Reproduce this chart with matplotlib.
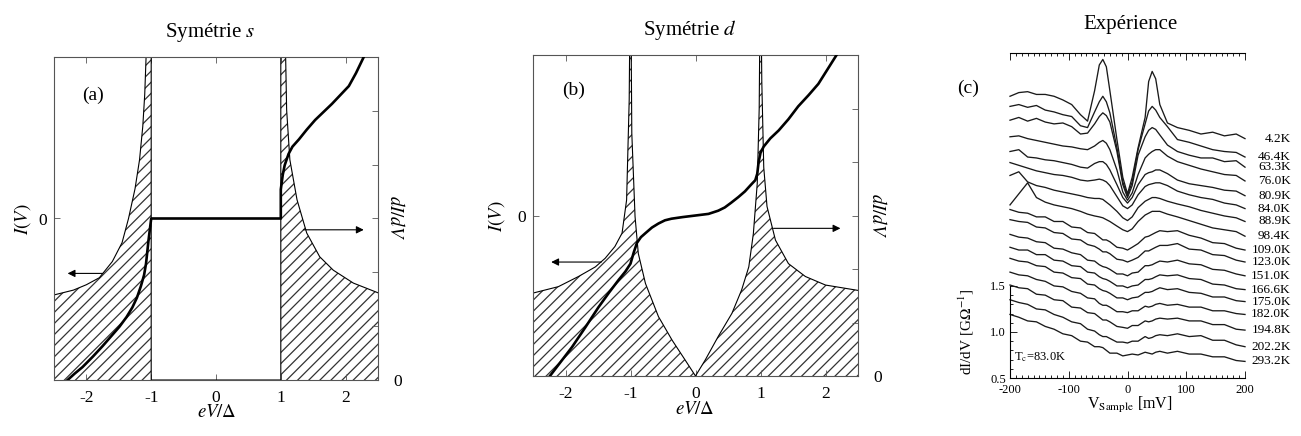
import numpy as np
import matplotlib.pyplot as plt
from matplotlib.ticker import FixedLocator, MultipleLocator

plt.rcParams['font.family'] = ['Liberation Serif', 'DejaVu Serif']
plt.rcParams['mathtext.fontset'] = 'stix'
plt.rcParams['hatch.linewidth'] = 0.9

W, H = 1301, 436

# ---------------------------------------------------------------------------
# (a) s symmetry : density of states (right axis) and I(V) (left axis), x = eV/Delta
dos_s_x = [-2.5, -2.2, -2.0, -1.8, -1.6, -1.45, -1.35, -1.25, -1.18, -1.13, -1.10, -1.07, -1.0, -1.0,
           1.0, 1.0, 1.07, 1.09, 1.14, 1.25, 1.40, 1.60, 1.81, 2.12, 2.5]
dos_s_y = [1.58, 1.67, 1.77, 1.90, 2.20, 2.55, 3.0, 3.55, 4.09, 4.71, 5.3, 6.3, 8.0, 0.0,
           0.0, 8.0, 6.3, 5.02, 4.09, 3.35, 2.73, 2.29, 2.04, 1.80, 1.62]
iv_s_x = [-2.29, -2.18, -2.06, -1.90, -1.75, -1.62, -1.49, -1.38, -1.29, -1.22, -1.16, -1.11, -1.08,
          -1.04, -1.0, 1.0, 1.0, 1.03, 1.06, 1.12, 1.18, 1.28, 1.40, 1.53, 1.66, 1.79, 1.92, 2.05,
          2.16, 2.28]
iv_s_i = [-1.0, -0.96, -0.92, -0.855, -0.79, -0.73, -0.67, -0.61, -0.55, -0.49, -0.42, -0.35, -0.28,
          -0.13, 0.0, 0.0, 0.18, 0.27, 0.33, 0.40, 0.445, 0.49, 0.55, 0.61, 0.66, 0.71, 0.765, 0.82,
          0.90, 1.0]

# (b) d symmetry
dos_d_x = [-2.5, -2.11, -1.80, -1.54, -1.39, -1.24, -1.13, -1.06, -1.02, -1.0, -0.98, -0.93, -0.88,
           -0.77, -0.57, -0.36, -0.16, 0.0, 0.15, 0.35, 0.56, 0.71, 0.82, 0.89, 0.95, 0.98, 1.0,
           1.02, 1.05, 1.10, 1.23, 1.43, 1.69, 2.0, 2.5]
dos_d_y = [1.55, 1.67, 1.86, 2.04, 2.20, 2.42, 2.67, 3.29, 5.16, 8.0, 4.54, 2.98, 2.29,
           1.73, 1.11, 0.67, 0.30, 0.0, 0.30, 0.74, 1.17, 1.61, 2.04, 2.66, 3.6, 5.0, 8.0,
           5.5, 3.9, 3.17, 2.54, 2.10, 1.86, 1.70, 1.60]
iv_d_x = [-2.24, -2.07, -1.90, -1.70, -1.49, -1.33, -1.18, -1.08, -1.00, -0.95, -0.90, -0.84, -0.77,
          -0.67, -0.57, -0.47, -0.37, -0.2, 0.0, 0.2, 0.35, 0.45, 0.55, 0.66, 0.76, 0.85, 0.92,
          0.95, 0.97, 1.00, 1.05, 1.15, 1.28, 1.43, 1.58, 1.74, 1.89, 2.03, 2.17]
iv_d_i = [-1.0, -0.91, -0.82, -0.70, -0.57, -0.48, -0.40, -0.35, -0.30, -0.23, -0.17, -0.135, -0.11,
          -0.075, -0.05, -0.03, -0.02, -0.01, 0.0, 0.01, 0.03, 0.05, 0.08, 0.115, 0.15, 0.19, 0.22,
          0.26, 0.33, 0.39, 0.43, 0.48, 0.53, 0.60, 0.68, 0.75, 0.82, 0.91, 1.0]

# (c) experiment : dI/dV [GOhm^-1] vs V_sample [mV], curves offset in the original
bias_mv = [-200, -185, -170, -155, -140, -125, -110, -95, -80, -68, -56, -48, -42, -36, -30, -18, -8,
           0, 8, 18, 30, 36, 42, 48, 55, 68, 85, 105, 125, 145, 165, 185, 200]
temps = ['4.2K', '46.4K', '63.3K', '76.0K', '80.9K', '84.0K', '88.9K', '98.4K', '109.0K',
         '123.0K', '151.0K', '166.6K', '175.0K', '182.0K', '194.8K', '202.2K', '293.2K']
didv_curves = [
    [3.56, 3.60, 3.61, 3.58, 3.58, 3.56, 3.52, 3.47, 3.36, 3.29, 3.62, 3.90, 3.96, 3.88, 3.62, 3.09,
     2.68, 2.50, 2.68, 3.00, 3.33, 3.72, 3.83, 3.75, 3.47, 3.27, 3.22, 3.19, 3.15, 3.17, 3.13, 3.15,
     3.10],
    [3.45, 3.47, 3.44, 3.46, 3.41, 3.39, 3.36, 3.34, 3.24, 3.22, 3.39, 3.50, 3.56, 3.50, 3.38, 3.00,
     2.63, 2.48, 2.63, 2.98, 3.26, 3.40, 3.45, 3.41, 3.33, 3.23, 3.09, 3.06, 3.02, 2.98, 2.96, 2.95,
     2.90],
    [3.30, 3.33, 3.29, 3.32, 3.28, 3.26, 3.27, 3.23, 3.15, 3.16, 3.26, 3.34, 3.38, 3.35, 3.28, 2.96,
     2.60, 2.46, 2.59, 2.92, 3.12, 3.19, 3.22, 3.20, 3.14, 3.03, 2.96, 2.92, 2.89, 2.89, 2.85, 2.86,
     2.79],
    [3.12, 3.13, 3.10, 3.08, 3.06, 3.04, 3.02, 3.01, 2.99, 2.98, 3.02, 3.06, 3.08, 3.05, 2.98, 2.76,
     2.52, 2.43, 2.51, 2.71, 2.89, 2.93, 2.96, 2.98, 2.98, 2.91, 2.85, 2.81, 2.77, 2.74, 2.71, 2.70,
     2.64],
    [2.96, 2.98, 2.90, 2.89, 2.87, 2.86, 2.84, 2.82, 2.79, 2.78, 2.83, 2.85, 2.85, 2.82, 2.76, 2.60,
     2.46, 2.40, 2.46, 2.60, 2.71, 2.73, 2.74, 2.76, 2.76, 2.72, 2.65, 2.61, 2.59, 2.57, 2.54, 2.53,
     2.48],
    [2.84, 2.81, 2.78, 2.75, 2.73, 2.71, 2.70, 2.68, 2.65, 2.64, 2.65, 2.66, 2.65, 2.63, 2.59, 2.47,
     2.37, 2.34, 2.38, 2.49, 2.58, 2.60, 2.61, 2.62, 2.62, 2.59, 2.53, 2.49, 2.46, 2.44, 2.40, 2.38,
     2.34],
    [2.70, 2.74, 2.63, 2.59, 2.57, 2.54, 2.52, 2.50, 2.48, 2.46, 2.45, 2.45, 2.44, 2.41, 2.38, 2.31,
     2.24, 2.21, 2.25, 2.35, 2.42, 2.44, 2.46, 2.46, 2.45, 2.42, 2.39, 2.36, 2.32, 2.29, 2.26, 2.24,
     2.20],
    [2.38, 2.50, 2.62, 2.46, 2.41, 2.38, 2.36, 2.34, 2.31, 2.28, 2.26, 2.25, 2.24, 2.22, 2.20, 2.15,
     2.11, 2.09, 2.12, 2.20, 2.27, 2.29, 2.31, 2.31, 2.31, 2.28, 2.25, 2.21, 2.17, 2.13, 2.11, 2.09,
     2.04],
    [2.33, 2.30, 2.29, 2.25, 2.25, 2.20, 2.20, 2.14, 2.13, 2.08, 2.07, 2.03, 2.00, 2.00, 1.98, 1.92,
     1.91, 1.89, 1.92, 1.96, 2.03, 2.04, 2.06, 2.08, 2.10, 2.09, 2.10, 2.05, 2.02, 1.97, 1.96, 1.91,
     1.89],
    [2.22, 2.20, 2.19, 2.14, 2.13, 2.08, 2.07, 2.01, 2.00, 1.95, 1.93, 1.90, 1.87, 1.87, 1.85, 1.79,
     1.78, 1.76, 1.78, 1.81, 1.88, 1.88, 1.90, 1.92, 1.94, 1.94, 1.96, 1.90, 1.89, 1.84, 1.83, 1.78,
     1.76],
    [2.06, 2.03, 2.02, 1.98, 1.97, 1.91, 1.90, 1.86, 1.84, 1.78, 1.77, 1.73, 1.71, 1.70, 1.68, 1.63,
     1.63, 1.61, 1.64, 1.65, 1.72, 1.72, 1.73, 1.75, 1.77, 1.76, 1.78, 1.74, 1.73, 1.68, 1.67, 1.63,
     1.61],
    [1.92, 1.89, 1.89, 1.84, 1.84, 1.78, 1.77, 1.72, 1.71, 1.65, 1.64, 1.60, 1.58, 1.57, 1.55, 1.50,
     1.50, 1.48, 1.50, 1.51, 1.57, 1.57, 1.58, 1.60, 1.62, 1.61, 1.62, 1.58, 1.57, 1.52, 1.51, 1.47,
     1.46],
    [1.80, 1.77, 1.76, 1.72, 1.71, 1.65, 1.64, 1.59, 1.58, 1.52, 1.51, 1.47, 1.45, 1.44, 1.42, 1.37,
     1.37, 1.35, 1.37, 1.38, 1.43, 1.43, 1.44, 1.46, 1.48, 1.46, 1.47, 1.43, 1.42, 1.38, 1.38, 1.34,
     1.33],
    [1.65, 1.62, 1.61, 1.57, 1.55, 1.50, 1.49, 1.44, 1.42, 1.37, 1.36, 1.31, 1.29, 1.29, 1.27, 1.22,
     1.22, 1.21, 1.23, 1.23, 1.28, 1.27, 1.28, 1.30, 1.31, 1.29, 1.30, 1.27, 1.27, 1.23, 1.23, 1.20,
     1.19],
    [1.51, 1.48, 1.47, 1.41, 1.40, 1.35, 1.34, 1.27, 1.26, 1.21, 1.20, 1.16, 1.13, 1.13, 1.11, 1.06,
     1.05, 1.04, 1.07, 1.07, 1.12, 1.11, 1.12, 1.14, 1.15, 1.14, 1.15, 1.12, 1.12, 1.08, 1.08, 1.03,
     1.02],
    [1.35, 1.32, 1.30, 1.25, 1.24, 1.19, 1.16, 1.11, 1.09, 1.03, 1.01, 0.97, 0.95, 0.95, 0.93, 0.89,
     0.89, 0.88, 0.90, 0.90, 0.95, 0.93, 0.94, 0.96, 0.97, 0.96, 0.98, 0.95, 0.96, 0.91, 0.91, 0.86,
     0.84],
    [1.19, 1.16, 1.12, 1.11, 1.06, 1.03, 0.98, 0.96, 0.90, 0.89, 0.84, 0.84, 0.83, 0.80, 0.77, 0.77,
     0.74, 0.75, 0.76, 0.75, 0.78, 0.77, 0.76, 0.78, 0.79, 0.77, 0.79, 0.76, 0.76, 0.73, 0.73, 0.69,
     0.68],
]

# ---------------------------------------------------------------------------
fig = plt.figure(figsize=(W / 100, H / 100), dpi=100)


def fpos(x, y):
    # pixel position in the 1301x436 picture -> figure fraction
    return x / W, 1 - y / H


def theory_panel(rect, dos_x, dos_y, iv_x, iv_i):
    ax = fig.add_axes(rect)
    ax.fill_between(dos_x, 0, dos_y, facecolor='none', edgecolor='#333333', hatch='///', linewidth=0)
    ax.plot(dos_x, dos_y, color='black', lw=0.8)
    ax.set_xlim(-2.5, 2.5)
    ax.set_ylim(0, 6)
    ax2 = ax.twinx()
    ax2.plot(iv_x, iv_i, color='black', lw=1.9)
    ax2.set_ylim(-1, 1)
    ax.yaxis.tick_right()
    ax2.yaxis.tick_left()
    ax.set_yticks(range(6))
    ax.set_yticklabels(['0', '', '', '', '', ''])
    ax2.set_yticks([0])
    ax2.set_yticklabels(['0'])
    ax.set_xticks([-2, -1, 0, 1, 2])
    ax.set_xticklabels(['-2', '-1', '0', '1', '2'])
    ax.tick_params(axis='x', top=True, direction='in', length=4, width=0.6, pad=7,
                   labelsize=12.5, color='#555555')
    ax.tick_params(axis='y', direction='in', length=4, width=0.6, pad=11,
                   labelsize=12.5, color='#555555')
    ax2.tick_params(axis='y', direction='in', length=4, width=0.6, pad=5,
                    labelsize=12.5, color='#555555')
    for s in ax.spines.values():
        s.set_color('#555555')
        s.set_linewidth(0.8)
    for s in ax2.spines.values():
        s.set_visible(False)
    return ax, ax2


def arrow(ax, x0, x1, y):
    ax.annotate('', xy=(x1, y), xytext=(x0, y),
                arrowprops=dict(arrowstyle='-|>', color='black', lw=0.8,
                                mutation_scale=11, shrinkA=0, shrinkB=0))


# (a)
axa, axa2 = theory_panel([54 / W, 1 - 380 / H, 324 / W, 323 / H], dos_s_x, dos_s_y, iv_s_x, iv_s_i)
arrow(axa2, -1.75, -2.29, -0.34)
arrow(axa2, 1.35, 2.28, -0.07)
axa2.text(-1.9, 0.76, '(a)', fontsize=14, ha='center', va='center')
fig.text(*fpos(210, 33), 'Symétrie $s$', fontsize=15, ha='center', va='center')
fig.text(*fpos(217, 412), r'$eV/\Delta$', fontsize=13.5, ha='center', va='center')
fig.text(*fpos(23, 219), r'$I(V)$', fontsize=13.5, ha='center', va='center', rotation=90)
fig.text(*fpos(396, 218), r'$dI/dV$', fontsize=13.5, ha='center', va='center', rotation=-90)

# (b)
axb, axb2 = theory_panel([533 / W, 1 - 376 / H, 325 / W, 321 / H], dos_d_x, dos_d_y, iv_d_x, iv_d_i)
arrow(axb2, -1.45, -2.22, -0.29)
arrow(axb2, 1.2, 2.23, -0.08)
axb2.text(-1.88, 0.78, '(b)', fontsize=14, ha='center', va='center')
fig.text(*fpos(690, 30), 'Symétrie $d$', fontsize=15, ha='center', va='center')
fig.text(*fpos(695, 409), r'$eV/\Delta$', fontsize=13.5, ha='center', va='center')
fig.text(*fpos(497, 216), r'$I(V)$', fontsize=13.5, ha='center', va='center', rotation=90)
fig.text(*fpos(878, 216), r'$dI/dV$', fontsize=13.5, ha='center', va='center', rotation=-90)

# (c)
axc = fig.add_axes([1010 / W, 1 - 378 / H, 235 / W, 325 / H])
for vals in didv_curves:
    axc.plot(bias_mv, vals, color='#1a1a1a', lw=0.95, clip_on=False)
axc.set_xlim(-200, 200)
axc.set_ylim(0.5, 4.03)
axc.spines['right'].set_visible(False)
axc.spines['left'].set_bounds(0.5, 1.5)
for s in axc.spines.values():
    s.set_linewidth(0.8)
axc.set_xticks([-200, -100, 0, 100, 200])
axc.set_xticklabels(['-200', '-100', '0', '100', '200'])
axc.xaxis.set_minor_locator(MultipleLocator(10))
axc.set_yticks([0.5, 1.0, 1.5])
axc.set_yticklabels(['0.5', '1.0', '1.5'])
axc.yaxis.set_minor_locator(FixedLocator(np.arange(0.6, 1.5, 0.1)))
axc.tick_params(axis='x', which='both', top=True, direction='in', width=0.6, labelsize=9, pad=4)
axc.tick_params(axis='x', which='major', length=5)
axc.tick_params(axis='x', which='minor', length=2.5)
axc.tick_params(axis='y', which='both', direction='in', right=False, width=0.6, labelsize=9, pad=3)
axc.tick_params(axis='y', which='major', length=5)
axc.tick_params(axis='y', which='minor', length=2.5)
for temp, vals in zip(temps, didv_curves):
    axc.text(278, vals[-1], temp, ha='right', va='center', fontsize=9.5, clip_on=False)
axc.text(-193, 0.73, r'T$_{\mathrm{c}}$=83.0K', fontsize=9, ha='left', va='center')
fig.text(*fpos(968, 88), '(c)', fontsize=14, ha='center', va='center')
fig.text(*fpos(1130, 25), 'Expérience', fontsize=15, ha='center', va='center')
fig.text(*fpos(1130, 405), r'V$_{\mathrm{Sample}}$ [mV]', fontsize=11.5, ha='center', va='center')
fig.text(*fpos(966, 332), r'dI/dV [G$\Omega^{-1}$]', fontsize=11, ha='center', va='center',
         rotation=90)

fig.savefig('out.png', dpi=100, facecolor='white')
